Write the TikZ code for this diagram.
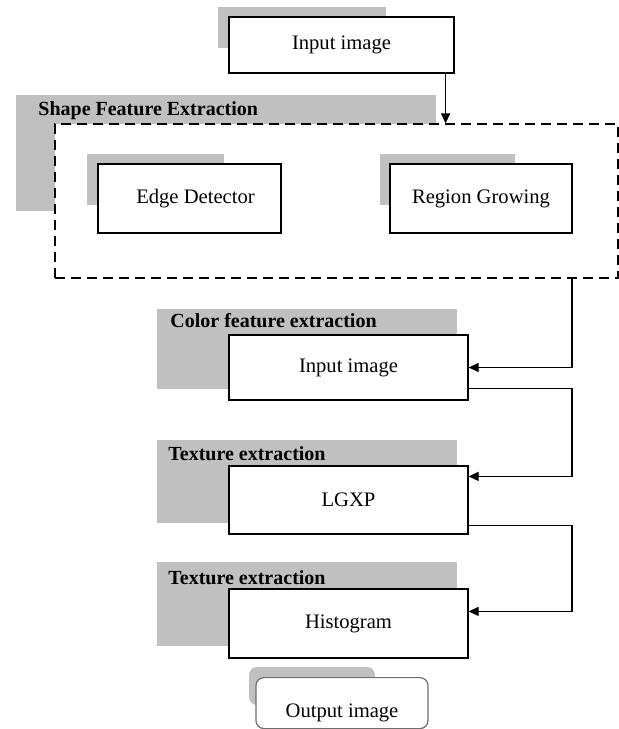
\documentclass[tikz,border=0pt]{standalone}
\usepackage{fontspec}
\setmainfont{Liberation Serif}
\usetikzlibrary{arrows.meta}
\definecolor{shadegray}{HTML}{C0C0C0}
\definecolor{outgray}{HTML}{6E6E6E}

\begin{document}
\begin{tikzpicture}[x=0.5pt,y=-0.5pt,
  box/.style={draw,fill=white,line width=0.6pt,inner sep=0pt,font=\fontsize{10.3}{12}\selectfont},
  shadow/.style={fill=shadegray},
  title/.style={anchor=west,inner sep=0pt,font=\fontsize{10}{12}\selectfont\bfseries},
  link/.style={line width=0.6pt,-{Triangle[length=5pt,width=4.5pt]}}]
  \useasboundingbox (0,0) rectangle (619,729);

  % input
  \fill[shadow] (218,7) rectangle (386,48);
  \node[box,minimum width=112.5pt,minimum height=28pt] (inimg) at (341.5,45) {Input image};

  % shape features
  \fill[shadow] (16,95) rectangle (436,211);
  \node[title] (shapetitle) at (38,111) {Shape Feature Extraction};
  \node[box,dashed,dash pattern=on 5pt off 3pt,minimum width=281.5pt,minimum height=77pt] (shape) at (336.5,201) {};
  \fill[shadow] (87,154) rectangle (224,205);
  \fill[shadow] (380,154) rectangle (515,205);
  \node[box,minimum width=91.5pt,minimum height=34.5pt] (edge) at (189.5,198.5) {\hspace{6pt}Edge Detector};
  \node[box,minimum width=91pt,minimum height=34.5pt] (region) at (481,198.5) {Region Growing};

  % colour, texture, histogram
  \fill[shadow] (157,309) rectangle (457,389);
  \node[title] (colortitle) at (170,321) {Color feature extraction};
  \node[box,minimum width=119.5pt,minimum height=32.5pt] (color) at (348.5,367.5) {Input image};

  \fill[shadow] (157,440) rectangle (457,523);
  \node[title] (textitle) at (168,454) {Texture extraction};
  \node[box,minimum width=119.5pt,minimum height=34pt] (lgxp) at (348.5,500) {LGXP};

  \fill[shadow] (157,562) rectangle (457,646);
  \node[title] (histtitle) at (168,578) {Texture extraction};
  \node[box,minimum width=119.5pt,minimum height=34.5pt] (hist) at (348.5,623.5) {Histogram};

  % output
  \fill[shadow,rounded corners=4pt] (249,667) rectangle (375,705);
  \node[box,draw=outgray,rounded corners=4pt,anchor=north,minimum width=86pt,
        inner ysep=2pt,text height=18pt,text depth=3.5pt] (outimg) at (342,677) {Output image};

  % links
  \coordinate (rail) at (572,0);
  \coordinate (drop) at ([xshift=-4.5pt]inimg.south east);
  \draw[link] (drop) -- (drop |- shape.north);
  \draw[link] (rail |- shape.south) |- (color.east);
  \coordinate (cout) at ([yshift=6pt]color.south east);
  \coordinate (lin) at ([yshift=-5.5pt]lgxp.north east);
  \draw[link] (cout) -- (rail |- cout) |- (lin);
  \coordinate (lout) at ([yshift=4.5pt]lgxp.south east);
  \coordinate (hin) at ([yshift=-11.5pt]hist.north east);
  \draw[link] (lout) -- (rail |- lout) |- (hin);
\end{tikzpicture}
\end{document}
